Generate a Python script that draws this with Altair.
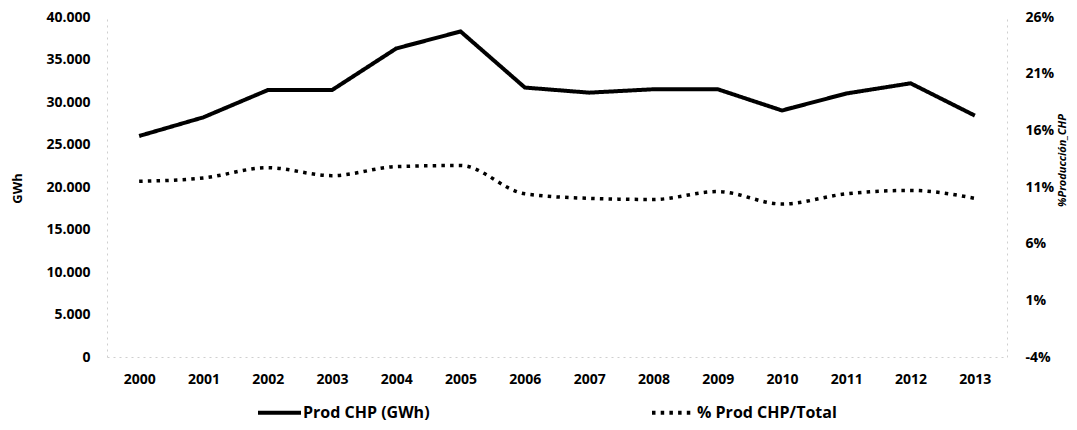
import altair as alt
import pandas as pd

years = [str(y) for y in range(2000, 2014)]
prod_gwh = [26000, 28200, 31400, 31400, 36300, 38300, 31700, 31100, 31500, 31500, 29000, 31000, 32200, 28400]
pct_total = [11.5, 11.8, 12.7, 12.0, 12.8, 12.9, 10.4, 10.0, 9.9, 10.6, 9.5, 10.4, 10.7, 10.0]

series_names = ["Prod CHP (GWh)", "% Prod CHP/Total"]
left_ticks = [0, 5000, 10000, 15000, 20000, 25000, 30000, 35000, 40000]
right_ticks = [-4, 1, 6, 11, 16, 21, 26]

df = pd.DataFrame({"year": years, "gwh": prod_gwh, "pct": pct_total})

FONT = "Open Sans"

x_enc = alt.X(
    "year:O",
    scale=alt.Scale(type="point", padding=0.5),
    axis=alt.Axis(
        title=None, labelAngle=0, ticks=False, domain=True,
        domainColor="#cfcfcf", domainDash=[2, 4], domainWidth=1,
        labelFont=FONT, labelFontWeight="bold", labelFontSize=14,
        labelColor="#000000", labelPadding=15, grid=False,
    ),
)

dash_scale = alt.Scale(domain=series_names, range=[[1, 0], [3.5, 5.2]])

line_gwh = alt.Chart(df).mark_line(color="#000000", strokeWidth=4).encode(
    x=x_enc,
    y=alt.Y(
        "gwh:Q",
        scale=alt.Scale(domain=[0, 40000], nice=False, zero=False),
        axis=alt.Axis(
            title="GWh", orient="left", values=left_ticks, ticks=False,
            domain=True, domainColor="#cfcfcf", domainDash=[2, 4],
            labelExpr="replace(format(datum.value, ','), ',', '.')",
            labelFont=FONT, labelFontWeight="bold", labelFontSize=14,
            labelColor="#000000", labelPadding=17, grid=False,
            titleFont=FONT, titleFontWeight="bold", titleFontSize=13,
            titleColor="#000000", titleAngle=270, titleX=-90, titleY=171,
            titleBaseline="middle", titleAlign="center",
        ),
    ),
    strokeDash=alt.StrokeDash(
        "s:N", scale=dash_scale,
        legend=alt.Legend(
            title=None, orient="none", direction="horizontal",
            legendX=149, legendY=372, padding=0,
            symbolType="stroke", symbolSize=1849, symbolStrokeWidth=4,
            symbolStrokeColor="#000000", symbolOffset=0, labelOffset=0,
            labelFont=FONT, labelFontWeight="bold", labelFontSize=16,
            labelColor="#000000", columnPadding=214, labelLimit=400,
        ),
    ),
).transform_calculate(s="'Prod CHP (GWh)'")

line_pct = alt.Chart(df).mark_line(
    color="#000000", strokeWidth=3.5, interpolate="monotone"
).encode(
    x=x_enc,
    y=alt.Y(
        "pct:Q",
        scale=alt.Scale(domain=[-4, 26], nice=False, zero=False),
        axis=alt.Axis(
            title="%Producción_CHP", orient="right", values=right_ticks,
            ticks=False, domain=True, domainColor="#cfcfcf", domainDash=[2, 4],
            labelExpr="datum.value + '%'",
            labelFont=FONT, labelFontWeight="bold", labelFontSize=14,
            labelColor="#000000", labelPadding=18, grid=False,
            titleFont=FONT, titleFontWeight="bold", titleFontStyle="italic",
            titleFontSize=11, titleColor="#000000", titleAngle=270,
            titleX=55, titleY=143, titleBaseline="middle", titleAlign="center",
        ),
    ),
    strokeDash=alt.StrokeDash("s:N", scale=dash_scale),
).transform_calculate(s="'% Prod CHP/Total'")

chart = (
    alt.layer(line_gwh, line_pct)
    .resolve_scale(y="independent")
    .properties(
        width=900, height=340,
        autosize=alt.AutoSizeParams(type="none"),
        padding={"left": 99, "top": 9, "right": 62, "bottom": 65},
        background="#ffffff",
    )
    .configure_view(stroke=None)
)

chart.save("out.html", embed_options={"renderer": "svg", "actions": False})
